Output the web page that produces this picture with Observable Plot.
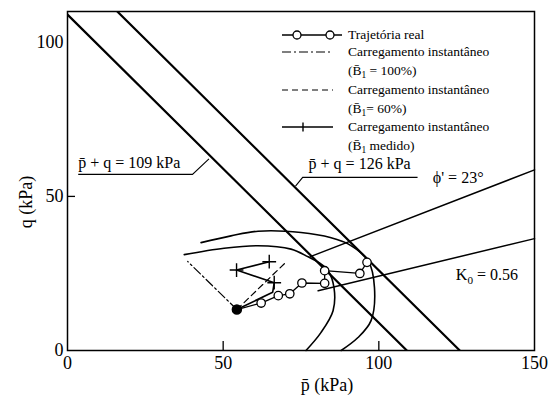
<!DOCTYPE html>
<html>
<head>
<meta charset="utf-8">
<script src="https://cdn.jsdelivr.net/npm/d3@7"></script>
<script src="https://cdn.jsdelivr.net/npm/@observablehq/plot@0.6"></script>
<style>
  body { margin: 0; background: #fff; }
  svg { display: block; }
</style>
</head>
<body>
<div id="chart"></div>
<script>
// Effective stress paths in p̄–q space (kPa)
const realP = [54.4, 62.2, 67.7, 71.4, 75.3, 82.6, 82.6, 93.9, 96.2];
const realQ = [13.3, 15.4, 17.8, 18.4, 21.9, 21.8, 25.9, 25.0, 28.6];

const measuredP = [54.4, 65.9, 66.4, 54.3, 64.8];
const measuredQ = [13.3, 18.9, 22.0, 26.1, 28.8];

const instant100P = [54.4, 38.6];
const instant100Q = [13.3, 28.9];

const instant60P = [54.4, 69.9];
const instant60Q = [13.3, 28.4];

// Yield curves
const innerArcP = [37.5, 50.3, 61.1, 71.8, 77.3, 80.8, 83.7, 85.6, 85.3, 81.4, 76.6];
const innerArcQ = [31.1, 33.2, 34.0, 32.9, 30.4, 28.5, 25.9, 20.4, 12.9, 5.8, 0];
const outerArcP = [42.9, 52.5, 61.2, 75.0, 84.7, 90.1, 96.6, 98.6, 97.5, 93.3, 87.9];
const outerArcQ = [35.0, 37.2, 38.7, 38.3, 36.6, 34.6, 29.1, 20.4, 9.7, 4.2, 0];

// Reference lines
const totalStress = [109, 126];          // p̄ + q = const (kPa)
const phiDeg = 23;                        // failure envelope angle
const phiLineP = [78, 150];
const k0Value = 0.56;
const k0LineP = [80.5, 150];
const k0LineQ = [19.4, 36.3];

const xTicks = [0, 50, 100, 150];
const yTicks = [0, 50, 100];

const zip = (ps, qs) => ps.map((p, i) => ({p, q: qs[i]}));

const W = 550, H = 398, mL = 67, mR = 16, mT = 11, mB = 48;
const plotW = W - mL - mR, plotH = H - mT - mB;
const serif = "'Liberation Serif', 'Noto Serif', 'DejaVu Serif', Tinos, FreeSerif, 'Nimbus Roman', 'Times New Roman', serif";

const constLines = totalStress.flatMap(s => [{s, p: 0, q: s}, {s, p: s, q: 0}]);
const phiLine = phiLineP.map(p => ({p, q: p * Math.sin(phiDeg * Math.PI / 180)}));
const real = zip(realP, realQ);
const measured = zip(measuredP, measuredQ);

const plot = Plot.plot({
  width: W, height: H,
  marginLeft: mL, marginRight: mR, marginTop: mT, marginBottom: mB,
  style: {fontSize: "17px", color: "#000", background: "#fff"},
  x: {domain: [0, 150]},
  y: {domain: [0, 110]},
  marks: [
    Plot.axisX({ticks: xTicks, tickSize: 0, tickPadding: 6, label: null, fontSize: 18}),
    Plot.axisY({ticks: yTicks, tickSize: 0, tickPadding: 4, label: null, fontSize: 18}),
    Plot.tickX(xTicks.slice(1, -1), {x: d => d, insetTop: plotH - 9, strokeWidth: 1.3}),
    Plot.tickY(yTicks.slice(1, -1), {y: d => d, insetRight: plotW - 8, strokeWidth: 1.3}),
    // p̄ + q = const lines
    Plot.line(constLines, {x: "p", y: "q", z: "s", stroke: "#000", strokeWidth: 2.2, clip: true}),
    // failure envelope and K0 line
    Plot.line(phiLine, {x: "p", y: "q", stroke: "#000", strokeWidth: 1.5}),
    Plot.line(zip(k0LineP, k0LineQ), {x: "p", y: "q", stroke: "#000", strokeWidth: 1.5}),
    // yield curves
    Plot.line(zip(innerArcP, innerArcQ), {x: "p", y: "q", curve: "catmull-rom", stroke: "#000", strokeWidth: 1.6}),
    Plot.line(zip(outerArcP, outerArcQ), {x: "p", y: "q", curve: "catmull-rom", stroke: "#000", strokeWidth: 1.6}),
    // undrained (instantaneous) loading paths
    Plot.line(zip(instant100P, instant100Q), {x: "p", y: "q", stroke: "#000", strokeWidth: 1.2, strokeDasharray: "9,3,2,3"}),
    Plot.line(zip(instant60P, instant60Q), {x: "p", y: "q", stroke: "#000", strokeWidth: 1.2, strokeDasharray: "6,4"}),
    Plot.line(measured, {x: "p", y: "q", stroke: "#000", strokeWidth: 1.6}),
    Plot.dot(measured.slice(2), {x: "p", y: "q", symbol: "plus", r: 4.5, stroke: "#000", strokeWidth: 1.4}),
    // measured (real) path
    Plot.line(real, {x: "p", y: "q", stroke: "#000", strokeWidth: 1.3}),
    Plot.dot(real.slice(1), {x: "p", y: "q", r: 4.2, fill: "#fff", stroke: "#000", strokeWidth: 1.3}),
    Plot.dot(real.slice(0, 1), {x: "p", y: "q", r: 4.5, fill: "#000", stroke: "#000"}),
    Plot.frame({stroke: "#000", strokeWidth: 1.5})
  ]
});

document.getElementById("chart").append(plot);

const sx = plot.scale("x"), sy = plot.scale("y");
const X = v => sx.apply(v), Y = v => sy.apply(v);
const svg = d3.select(plot);
const g = svg.append("g").attr("fill", "#000");

// Text with optional subscripts: parts = [[text, isSub], ...]
function rich(x, y, parts, size, anchor = "start") {
  const t = g.append("text").attr("x", x).attr("y", y)
    .attr("font-size", size).attr("text-anchor", anchor).attr("dy", "0.32em");
  parts.forEach(([s, sub], i) => {
    const ts = t.append("tspan").text(s);
    if (sub) ts.attr("font-size", size * 0.7).attr("dy", "0.3em");
    else if (i > 0 && parts[i - 1][1]) ts.attr("dy", `${-0.3 * 0.7}em`);
  });
  return t;
}

// Axis titles
rich(X(83.5), H - 13, [["p̄ (kPa)"]], 18, "middle");
g.append("text").attr("transform", `translate(26,${Y(48)}) rotate(-90)`)
  .attr("text-anchor", "middle").attr("dy", "0.32em").attr("font-size", 18).text("q (kPa)");

// Line annotations
const leader = (pts) => g.append("path")
  .attr("d", d3.line()(pts.map(([p, q]) => [X(p), Y(q)])))
  .attr("fill", "none").attr("stroke", "#000").attr("stroke-width", 1.1);
rich(X(3.6), Y(60.8), [[`p̄ + q = ${totalStress[0]} kPa`]], 16);
leader([[3.6, 57.0], [40.3, 57.0], [45.6, 62.0]]);
rich(X(77.6), Y(60.5), [[`p̄ + q = ${totalStress[1]} kPa`]], 16);
leader([[112.6, 56.0], [75.7, 56.0], [73.4, 53.2]]);
rich(X(117.5), Y(56.0), [[`ϕ' = ${phiDeg}°`]], 16);
rich(X(124.9), Y(24.3), [["K", false], ["0", true], [` = ${k0Value}`, false]], 16);

// Legend
const lg = g.append("g");
const ls = 13.5;
const rows = [35, 52, 71, 90, 109, 127, 146];
const seg = (y, x2, dash, w) => lg.append("line").attr("x1", 282).attr("x2", x2)
  .attr("y1", y).attr("y2", y).attr("stroke", "#000").attr("stroke-width", w)
  .attr("stroke-dasharray", dash);
seg(rows[0], 342, null, 1.6);
[297, 330].forEach(cx => lg.append("circle").attr("cx", cx).attr("cy", rows[0]).attr("r", 4)
  .attr("fill", "#fff").attr("stroke", "#000").attr("stroke-width", 1.3));
seg(rows[1], 333, "9,3,2,3", 1.2);
seg(rows[3], 333, "6,4", 1.2);
seg(rows[5], 333, null, 1.6);
lg.append("line").attr("x1", 303).attr("x2", 303).attr("y1", rows[5] - 4.5).attr("y2", rows[5] + 4.5)
  .attr("stroke", "#000").attr("stroke-width", 1.4);
const lx = 348;
rich(lx, rows[0], [["Trajetória real"]], ls);
rich(lx, rows[1], [["Carregamento instantâneo"]], ls);
rich(lx, rows[2], [["(B̄", false], ["1", true], [" = 100%)", false]], ls);
rich(lx, rows[3], [["Carregamento instantâneo"]], ls);
rich(lx, rows[4], [["(B̄", false], ["1", true], ["= 60%)", false]], ls);
rich(lx, rows[5], [["Carregamento instantâneo"]], ls);
rich(lx, rows[6], [["(B̄", false], ["1", true], [" medido)", false]], ls);

// Serif face for every text element, set inline
svg.selectAll("text").style("font-family", serif);
</script>
</body>
</html>
